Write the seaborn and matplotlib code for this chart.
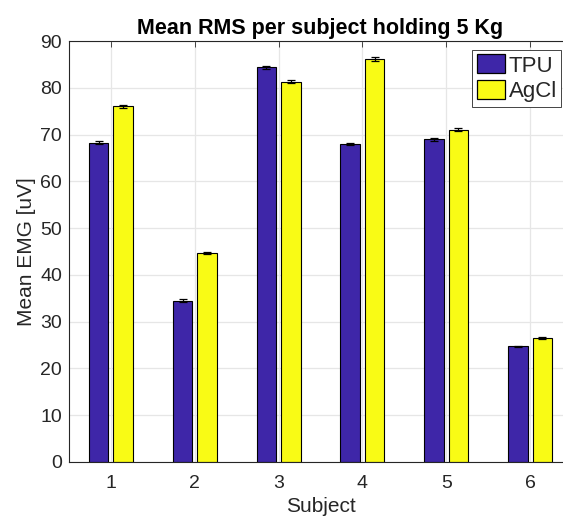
import matplotlib
matplotlib.use("Agg")
import matplotlib.pyplot as plt
import pandas as pd
import seaborn as sns

# Data
subjects = ['1', '2', '3', '4', '5', '6']
tpu = [68.3, 34.5, 84.4, 68.0, 69.0, 24.7]
agcl = [76.0, 44.7, 81.3, 86.2, 71.0, 26.5]
tpu_err = [0.35, 0.25, 0.35, 0.3, 0.35, 0.2]
agcl_err = [0.35, 0.25, 0.35, 0.4, 0.3, 0.15]
electrodes = ['TPU', 'AgCl']
colors = ['#3E26A8', '#F9FB15']

df = pd.DataFrame({
    'Subject': subjects * 2,
    'Electrode': ['TPU'] * len(subjects) + ['AgCl'] * len(subjects),
    'value': tpu + agcl,
})

sns.set_style("white")
plt.rcParams['font.family'] = ['Liberation Sans', 'DejaVu Sans']
plt.rcParams['text.color'] = '#262626'
plt.rcParams['axes.labelcolor'] = '#262626'
plt.rcParams['xtick.color'] = '#262626'
plt.rcParams['ytick.color'] = '#262626'

fig = plt.figure(figsize=(5.63, 5.21), dpi=100)
ax = fig.add_axes([69 / 563, 59 / 521, 503 / 563, 421 / 521])

sns.barplot(data=df, x='Subject', y='value', hue='Electrode', hue_order=electrodes,
            palette=colors, width=0.584, gap=0.2, errorbar=None,
            edgecolor='black', linewidth=0.8, saturation=1, ax=ax, zorder=2)

# error bars on top of each bar, placed at the bar centres seaborn chose
errs = tpu_err + agcl_err
bars = [p for p in ax.patches if p.get_height() > 0][:len(errs)]
xs = [p.get_x() + p.get_width() / 2 for p in bars]
ys = [p.get_height() for p in bars]
ax.errorbar(xs, ys, yerr=errs, fmt='none', ecolor='black', elinewidth=0.9,
            capsize=3, capthick=0.9, zorder=3)

ax.set_xlim(-0.5, 5.5)
ax.set_ylim(0, 90)
ax.set_yticks(range(0, 91, 10))
ax.grid(True, color='#E6E6E6', linewidth=0.9, zorder=0)
ax.set_axisbelow(True)
ax.tick_params(direction='in', length=4, width=0.6, labelsize=14, top=True, right=True, pad=5)
ax.tick_params(axis='x', pad=9)
for s in ax.spines.values():
    s.set_color('#262626')
    s.set_linewidth(0.8)

ax.set_title('Mean RMS per subject holding 5 Kg', fontsize=15.5, fontweight='bold',
             color='black', pad=5)
ax.set_xlabel('Subject', fontsize=15, labelpad=4)
ax.set_ylabel('Mean EMG [uV]', fontsize=15, labelpad=3)

leg = ax.legend(loc='upper right', bbox_to_anchor=(0.979, 0.979), fontsize=16,
                frameon=True, fancybox=False, edgecolor='#262626', framealpha=1,
                handlelength=1.3, handleheight=0.95, handletextpad=0.15,
                borderpad=0.2, labelspacing=0.15, borderaxespad=0)
leg.get_frame().set_linewidth(0.6)
for h in leg.legend_handles:
    h.set_edgecolor('black')
    h.set_linewidth(0.9)

fig.savefig('out.png', dpi=100)
